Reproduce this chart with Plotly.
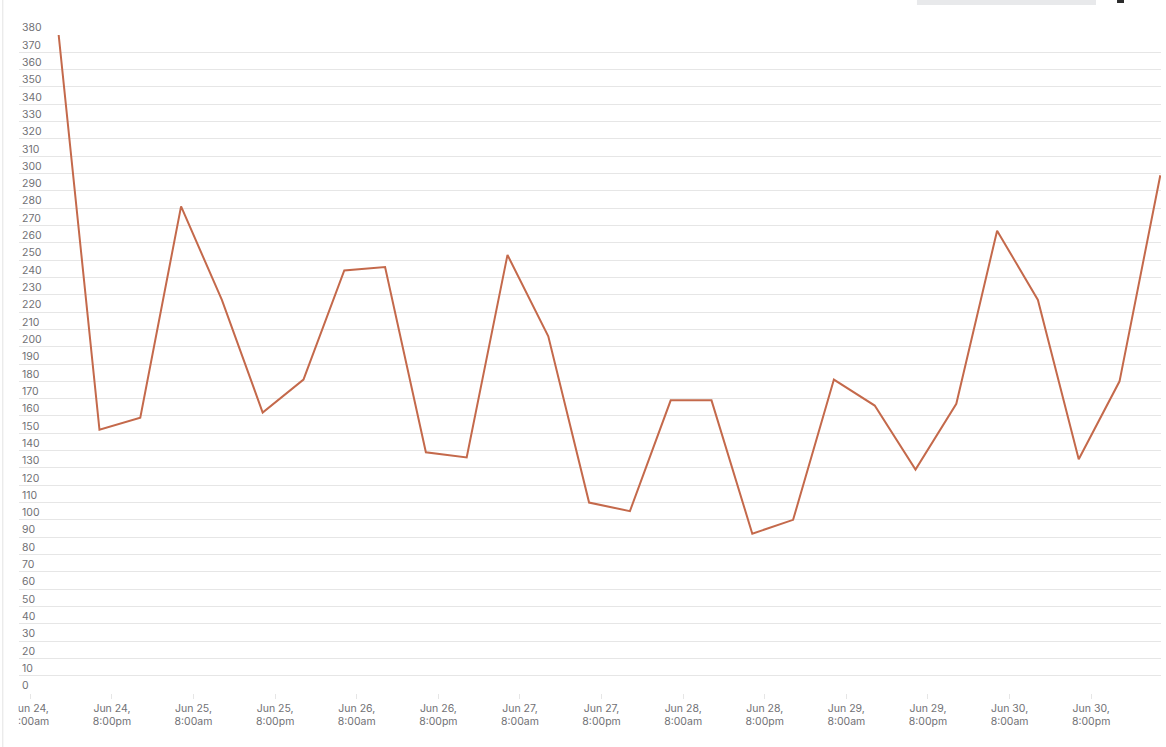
import pandas as pd
import plotly.graph_objects as go

# 6-hourly samples, Jun 24 12:10pm -> Jul 1 6:10am
start_time = "2024-06-24 12:10"
step = "6h"
values = [
    380, 152, 159, 281, 227, 162, 181, 244, 246, 139,
    136, 253, 206, 110, 105, 169, 169, 92, 100, 181,
    166, 129, 167, 267, 227, 135, 180, 299,
]
series_name = "Datapoints"

tick_times = pd.date_range("2024-06-24 08:00", "2024-06-30 20:00", freq="12h")
tick_labels = [
    t.strftime("%b %d,<br>%I:%M").replace(" 0", " ").replace(">0", ">")
    + t.strftime("%p").lower()
    for t in tick_times
]
y_ticks = list(range(0, 381, 10))

times = pd.date_range(start_time, periods=len(values), freq=step)

GRID = "#e6e6e6"
TEXT = "#717175"

fig = go.Figure()
fig.add_trace(go.Scatter(
    x=times, y=values, mode="lines", name=series_name,
    line=dict(color="#c4694b", width=2),
))

fig.update_layout(
    width=1166, height=747,
    margin=dict(l=19, r=5, t=35, b=54),
    paper_bgcolor="white", plot_bgcolor="white",
    font=dict(family="Inter, Roboto, sans-serif", size=10.5, color=TEXT),
    showlegend=False,
    shapes=[
        # the chart panel clips the first tick label
        dict(type="rect", xref="paper", yref="paper", x0=-0.02, x1=-0.0005,
             y0=-0.09, y1=-0.003, fillcolor="white", line=dict(width=0), layer="above"),
        # panel border on the left
        dict(type="line", xref="paper", yref="paper", x0=-0.0142, x1=-0.0142,
             y0=-0.2, y1=1.2, line=dict(color="#e3e3e3", width=1), layer="above"),
        # clipped controls at the top right
        dict(type="rect", xref="paper", yref="paper", x0=0.7863, x1=0.9431,
             y0=1.0456, y1=1.06, fillcolor="#e8e9eb", line=dict(width=0), layer="above"),
        dict(type="rect", xref="paper", yref="paper", x0=0.9615, x1=0.9676,
             y0=1.0486, y1=1.06, fillcolor="#2b2b2b", line=dict(width=0), layer="above"),
    ],
)

fig.update_xaxes(
    type="date",
    range=["2024-06-24 06:20", "2024-07-01 06:16"],
    tickvals=tick_times, ticktext=tick_labels,
    showgrid=False, zeroline=False, showline=False,
    ticks="outside", ticklen=5, tickcolor=GRID,
    ticklabeloverflow="allow",
    tickfont=dict(size=10.5, color=TEXT),
)
fig.update_yaxes(
    range=[0, 380],
    tickvals=y_ticks,
    ticklabelposition="inside top",
    ticklabeloverflow="allow",
    showgrid=True, gridcolor=GRID, gridwidth=1,
    zeroline=False, showline=False,
    tickfont=dict(size=10.5, color=TEXT),
)

fig.write_html(
    "out.html",
    config={"displayModeBar": False},
    post_script="document.body.style.margin='0';",
)
